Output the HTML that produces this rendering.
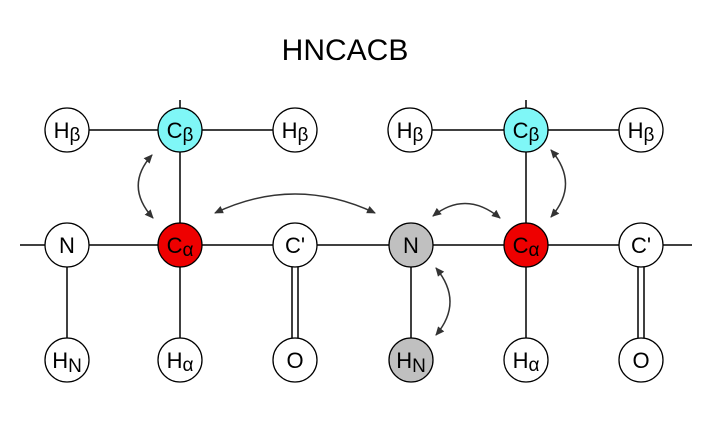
<!DOCTYPE html>
<html><head><style>body{margin:0;background:#fff}svg{display:block}</style></head><body>
<svg width="723" height="434" viewBox="0 0 723 434" xmlns="http://www.w3.org/2000/svg" font-family="Liberation Sans, sans-serif">
<defs><marker id="a" markerWidth="10" markerHeight="10" refX="8" refY="5" orient="auto-start-reverse" markerUnits="userSpaceOnUse"><path d="M0,1 L9,5 L0,9 Z" fill="#333"/></marker></defs>
<rect width="723" height="434" fill="#fff"/>
<text x="345" y="60" font-size="30" text-anchor="middle">HNCACB</text>
<g stroke="#000" stroke-width="1.5" fill="none">
<line x1="20" y1="245" x2="692" y2="245"/>
<line x1="67" y1="130" x2="295" y2="130"/>
<line x1="410" y1="130" x2="641" y2="130"/>
<line x1="180" y1="100" x2="180" y2="360"/>
<line x1="526" y1="100" x2="526" y2="360"/>
<line x1="67" y1="245" x2="67" y2="360"/>
<line x1="411" y1="245" x2="411" y2="360"/>
<line x1="292" y1="245" x2="292" y2="360"/><line x1="298" y1="245" x2="298" y2="360"/>
<line x1="638" y1="245" x2="638" y2="360"/><line x1="644" y1="245" x2="644" y2="360"/>
</g>
<g stroke="#333" stroke-width="1.5" fill="none" marker-start="url(#a)" marker-end="url(#a)">
<path d="M152,155 Q124,186 153,218"/>
<path d="M215,213 Q295,175 375,213"/>
<path d="M433,216 Q466,190 500,218"/>
<path d="M551,150 Q580,184 551,217"/>
<path d="M436,268 Q464,302 436,335"/>
</g>
<g stroke="#000" stroke-width="1.3">
<circle cx="67" cy="130" r="22" fill="#fff"/><circle cx="180" cy="130" r="22" fill="#7ff7f7"/><circle cx="295" cy="130" r="22" fill="#fff"/>
<circle cx="410" cy="130" r="22" fill="#fff"/><circle cx="526" cy="130" r="22" fill="#7ff7f7"/><circle cx="641" cy="130" r="22" fill="#fff"/>
<circle cx="67" cy="245" r="22" fill="#fff"/><circle cx="180" cy="245" r="22" fill="#ee0000"/><circle cx="295" cy="245" r="22" fill="#fff"/>
<circle cx="411" cy="245" r="22" fill="#c0c0c0"/><circle cx="526" cy="245" r="22" fill="#ee0000"/><circle cx="641" cy="245" r="22" fill="#fff"/>
<circle cx="67" cy="360" r="22" fill="#fff"/><circle cx="180" cy="360" r="22" fill="#fff"/><circle cx="295" cy="360" r="22" fill="#fff"/>
<circle cx="411" cy="360" r="22" fill="#c0c0c0"/><circle cx="526" cy="360" r="22" fill="#fff"/><circle cx="641" cy="360" r="22" fill="#fff"/>
</g>
<g font-size="22" text-anchor="middle" fill="#000">
<text x="67" y="138">H<tspan font-size="19" dy="3">β</tspan></text>
<text x="180" y="138">C<tspan font-size="19" dy="3">β</tspan></text>
<text x="295" y="138">H<tspan font-size="19" dy="3">β</tspan></text>
<text x="410" y="138">H<tspan font-size="19" dy="3">β</tspan></text>
<text x="526" y="138">C<tspan font-size="19" dy="3">β</tspan></text>
<text x="641" y="138">H<tspan font-size="19" dy="3">β</tspan></text>
<text x="67" y="253">N</text>
<text x="180" y="253">C<tspan font-size="19" dy="3">α</tspan></text>
<text x="295" y="253">C'</text>
<text x="411" y="253">N</text>
<text x="526" y="253">C<tspan font-size="19" dy="3">α</tspan></text>
<text x="641" y="253">C'</text>
<text x="67" y="368">H<tspan font-size="19" dy="4">N</tspan></text>
<text x="180" y="368">H<tspan font-size="19" dy="3">α</tspan></text>
<text x="295" y="368">O</text>
<text x="411" y="368">H<tspan font-size="19" dy="4">N</tspan></text>
<text x="526" y="368">H<tspan font-size="19" dy="3">α</tspan></text>
<text x="641" y="368">O</text>
</g>
</svg>
</body></html>
